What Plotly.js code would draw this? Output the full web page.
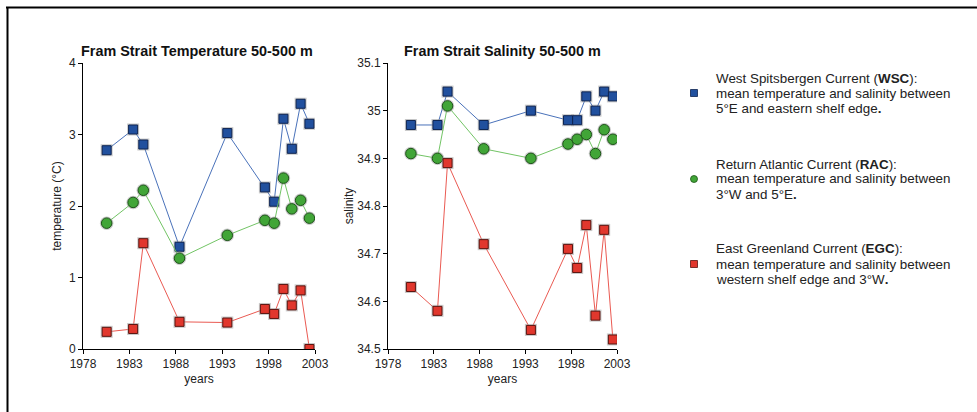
<!DOCTYPE html>
<html>
<head>
<meta charset="utf-8">
<script src="https://cdn.plot.ly/plotly-3.0.1.min.js"></script>
<style>
html,body{margin:0;padding:0;background:#fff}#chart{width:977px;height:412px}
</style>
</head>
<body>
<div id="chart"></div>
<script>
// ---- data ----
const yearsT = [1980.55, 1983.4, 1984.5, 1988.4, 1993.55, 1997.6, 1998.6, 1999.6, 2000.5, 2001.45, 2002.4];
const yearsS = [1980.5, 1983.4, 1984.5, 1988.45, 1993.6, 1997.65, 1998.65, 1999.65, 2000.65, 2001.6, 2002.55];
const tempWSC = [2.78, 3.07, 2.86, 1.43, 3.02, 2.26, 2.06, 3.22, 2.80, 3.43, 3.15];
const tempRAC = [1.76, 2.05, 2.22, 1.27, 1.59, 1.80, 1.76, 2.39, 1.96, 2.08, 1.83];
const tempEGC = [0.24, 0.28, 1.48, 0.38, 0.37, 0.56, 0.49, 0.84, 0.61, 0.82, 0.00];
const salWSC = [34.97, 34.97, 35.04, 34.97, 35.00, 34.98, 34.98, 35.03, 35.00, 35.04, 35.03];
const salRAC = [34.91, 34.90, 35.01, 34.92, 34.90, 34.93, 34.94, 34.95, 34.91, 34.96, 34.94];
const salEGC = [34.63, 34.58, 34.89, 34.72, 34.54, 34.71, 34.67, 34.76, 34.57, 34.75, 34.52];
const xTicks = [1978, 1983, 1988, 1993, 1998, 2003];
const tTicks = [0, 1, 2, 3, 4];
const sTicks = [34.5, 34.6, 34.7, 34.8, 34.9, 35.0, 35.1];
const sTickText = ['34.5', '34.6', '34.7', '34.8', '34.9', '35', '35.1'];
const titles = ['Fram Strait Temperature 50-500 m', 'Fram Strait Salinity 50-500 m'];
const legendLines = [
  ['West Spitsbergen Current (<b>WSC</b>):', 'mean temperature and salinity between', '5°E and eastern shelf edge<b>.</b>'],
  ['Return Atlantic Current (<b>RAC</b>):', 'mean temperature and salinity between', '3°W and 5°E<b>.</b>'],
  ['East Greenland Current (<b>EGC</b>):', 'mean temperature and salinity between', 'western shelf edge and 3°W<b>.</b>']
];

// ---- styles ----
const W = 977, H = 412;
const px = v => v / W, py = v => 1 - v / H;
const styles = {
  WSC: {line: '#4a72ba', fill: '#21509e', edge: '#0e2452', sym: 'square', size: 9},
  RAC: {line: '#72c465', fill: '#41a537', edge: '#1d5418', sym: 'circle', size: 10.5},
  EGC: {line: '#ea5a52', fill: '#e1372d', edge: '#5c140f', sym: 'square', size: 9}
};

function series(x, y, st, xa, ya) {
  return [
    {x: x, y: y, xaxis: xa, yaxis: ya, type: 'scatter', mode: 'lines',
     line: {color: st.line, width: 1}, hoverinfo: 'skip', showlegend: false},
    {x: x, y: y, xaxis: xa, yaxis: ya, type: 'scatter', mode: 'markers',
     marker: {symbol: st.sym, size: st.size + 3, color: 'rgba(150,150,150,0.5)', line: {width: 0}},
     hoverinfo: 'skip', showlegend: false},
    {x: x, y: y, xaxis: xa, yaxis: ya, type: 'scatter', mode: 'markers',
     marker: {symbol: st.sym, size: st.size, color: st.fill, line: {color: st.edge, width: 1}},
     showlegend: false}
  ];
}

const data = [].concat(
  series(yearsT, tempWSC, styles.WSC, 'x', 'y'),
  series(yearsT, tempRAC, styles.RAC, 'x', 'y'),
  series(yearsT, tempEGC, styles.EGC, 'x', 'y'),
  series(yearsS, salWSC, styles.WSC, 'x2', 'y2'),
  series(yearsS, salRAC, styles.RAC, 'x2', 'y2'),
  series(yearsS, salEGC, styles.EGC, 'x2', 'y2')
);

const FONT = 'Liberation Sans, Arial, sans-serif';
const axBase = {
  showline: true, linecolor: '#000', linewidth: 1, ticks: 'outside', ticklen: 4,
  tickcolor: '#000', showgrid: false, zeroline: false,
  tickfont: {family: FONT, size: 12, color: '#222'}
};
const yDom = [py(349), py(63)];
const axTitleFont = {family: FONT, size: 12, color: '#222'};

const annotations = [
  {text: '<b>' + titles[0] + '</b>', x: px(197), y: py(51), xref: 'paper', yref: 'paper',
   showarrow: false, xanchor: 'center', yanchor: 'middle', font: {family: FONT, size: 14.4, color: '#111'}},
  {text: '<b>' + titles[1] + '</b>', x: px(502), y: py(51), xref: 'paper', yref: 'paper',
   showarrow: false, xanchor: 'center', yanchor: 'middle', font: {family: FONT, size: 14.4, color: '#111'}}
];
const lineY = [[78, 93, 108], [164, 179, 194], [249, 264, 279]];
legendLines.forEach((block, i) => block.forEach((t, j) => annotations.push({
  text: t, x: px(714), y: py(lineY[i][j]), xref: 'paper', yref: 'paper', showarrow: false,
  xanchor: 'left', yanchor: 'middle', font: {family: FONT, size: 13.4, color: '#222'}
})));

const keys = ['WSC', 'RAC', 'EGC'];
const shapes = [
  {type: 'line', xref: 'paper', yref: 'paper', x0: px(6), x1: 1, y0: py(7.5), y1: py(7.5), line: {color: '#000', width: 2}},
  {type: 'line', xref: 'paper', yref: 'paper', x0: px(7.5), x1: px(7.5), y0: py(7), y1: 0, line: {color: '#000', width: 2}}
];
keys.forEach((k, i) => {
  const st = styles[k], cy = lineY[i][1], cx = 694, r = 3.5;
  shapes.push({type: st.sym === 'circle' ? 'circle' : 'rect', xref: 'paper', yref: 'paper',
    x0: px(cx - r), x1: px(cx + r), y0: py(cy + r), y1: py(cy - r),
    fillcolor: st.fill, line: {color: st.edge, width: 0.8}});
});

const layout = {
  width: W, height: H, margin: {l: 0, r: 0, t: 0, b: 0},
  paper_bgcolor: '#fff', plot_bgcolor: 'rgba(0,0,0,0)', showlegend: false,
  font: {family: FONT, color: '#222'},
  xaxis: Object.assign({}, axBase, {domain: [px(83), px(315)], range: [1978, 2003], tickvals: xTicks,
    title: {text: 'years', font: axTitleFont, standoff: 4}, anchor: 'y'}),
  yaxis: Object.assign({}, axBase, {domain: yDom, range: [0, 4], tickvals: tTicks,
    title: {text: 'temperature (°C)', font: axTitleFont, standoff: 4}, anchor: 'x'}),
  xaxis2: Object.assign({}, axBase, {domain: [px(388), px(617)], range: [1978, 2003], tickvals: xTicks,
    title: {text: 'years', font: axTitleFont, standoff: 4}, anchor: 'y2'}),
  yaxis2: Object.assign({}, axBase, {domain: yDom, range: [34.5, 35.1], tickvals: sTicks, ticktext: sTickText,
    title: {text: 'salinity', font: axTitleFont, standoff: 1}, anchor: 'x2'}),
  annotations: annotations, shapes: shapes
};

Plotly.newPlot('chart', data, layout, {displayModeBar: false, staticPlot: true});
</script>
</body>
</html>
